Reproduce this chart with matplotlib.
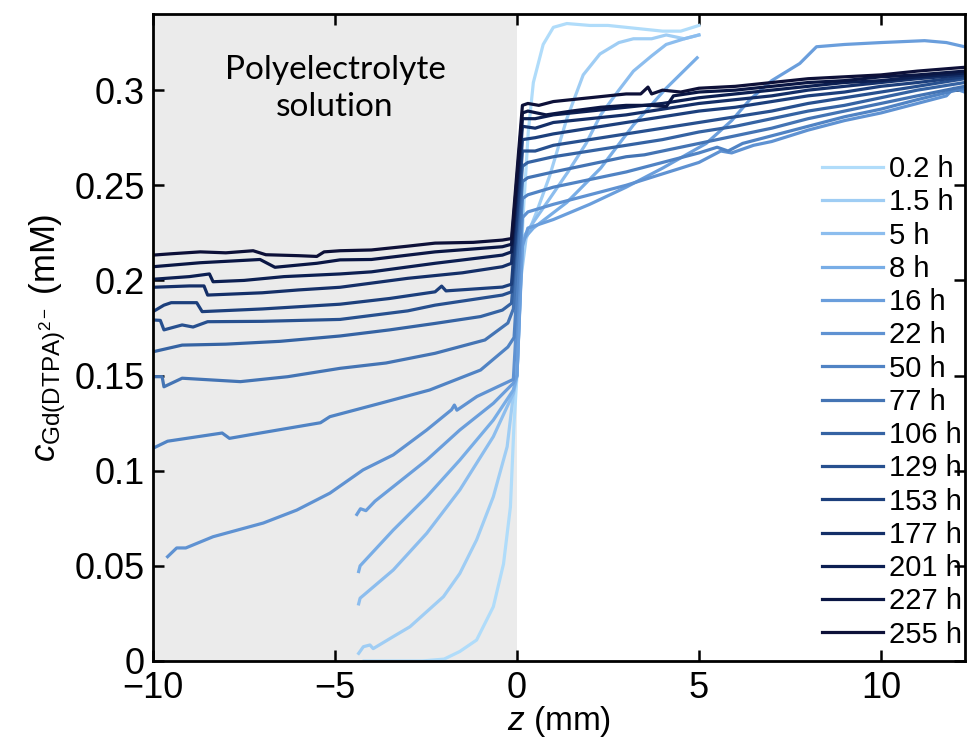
import matplotlib
matplotlib.use('Agg')
import matplotlib.pyplot as plt

plt.rcParams['font.family'] = ['Liberation Sans', 'DejaVu Sans']
plt.rcParams['mathtext.fontset'] = 'custom'
plt.rcParams['mathtext.rm'] = 'Liberation Sans'
plt.rcParams['mathtext.it'] = 'Liberation Sans:italic'

labels = ['0.2 h', '1.5 h', '5 h', '8 h', '16 h', '22 h', '50 h', '77 h',
          '106 h', '129 h', '153 h', '177 h', '201 h', '227 h', '255 h']

# z in mm, c in mM
z_0p2 = [-4.2, -3.4, -2.6, -2.0, -1.57, -1.11, -0.65, -0.37, -0.18, -0.08, 0.0,
         0.08, 0.17, 0.31, 0.45, 0.72, 1.0, 1.37, 2.0, 2.5, 3.0, 3.5, 4.0, 4.5, 5.0]
c_0p2 = [0.0, 0.0, 0.0, 0.001, 0.005, 0.011, 0.0285, 0.051, 0.081, 0.125, 0.150,
         0.200, 0.234, 0.278, 0.304, 0.324, 0.333, 0.335, 0.334, 0.334, 0.333, 0.332, 0.331, 0.331, 0.334]

z_1p5 = [-4.35, -4.22, -4.04, -3.95, -3.4, -2.94, -2.02, -1.57, -1.11, -0.65, -0.27, -0.1, 0.0,
         0.1, 0.25, 0.54, 0.9, 1.37, 1.82, 2.28, 2.8, 3.2, 3.7, 4.1, 4.6, 5.0]
c_1p5 = [0.004, 0.0075, 0.0084, 0.0065, 0.0128, 0.018, 0.0338, 0.046, 0.0636, 0.0863, 0.1126, 0.140, 0.150,
         0.200, 0.222, 0.236, 0.255, 0.285, 0.308, 0.319, 0.325, 0.327, 0.327, 0.329, 0.327, 0.329]

z_5 = [-4.35, -4.31, -3.4, -2.48, -1.57, -0.65, -0.1, 0.0,
       0.15, 0.5, 0.9, 1.4, 1.9, 2.3, 2.8, 3.2, 3.7, 4.1, 4.6, 5.0]
c_5 = [0.030, 0.033, 0.0478, 0.0671, 0.0899, 0.1179, 0.1407, 0.150,
       0.222, 0.232, 0.243, 0.257, 0.272, 0.287, 0.300, 0.310, 0.318, 0.324, 0.327, 0.329]

z_8 = [-4.35, -4.31, -3.4, -2.48, -1.57, -0.65, -0.1, 0.0,
       0.15, 0.45, 1.37, 2.3, 3.2, 4.1, 4.95]
c_8 = [0.047, 0.050, 0.0688, 0.0863, 0.1056, 0.1266, 0.1424, 0.150,
       0.221, 0.2275, 0.241, 0.259, 0.2817, 0.301, 0.317]

z_16 = [-4.4, -4.3, -4.15, -3.9, -3.4, -2.48, -1.57, -0.65, -0.1, 0.0,
        0.15, 0.3, 1.0, 2.0, 3.0, 4.0, 5.2, 5.9, 6.4, 7.0, 7.77, 8.23, 9.0, 10.0, 11.2, 11.8, 12.3]
c_16 = [0.077, 0.080, 0.079, 0.084, 0.0916, 0.1056, 0.1214, 0.1354, 0.146, 0.150,
        0.218, 0.2275, 0.232, 0.240, 0.249, 0.259, 0.272, 0.284, 0.295, 0.305, 0.314, 0.3228, 0.324, 0.325, 0.326, 0.325, 0.3228]

z_22 = [-9.6, -9.35, -9.1, -8.35, -6.97, -6.05, -5.14, -4.23, -3.4, -2.48, -1.8, -1.72, -1.65, -1.1, -0.1,
        0.15, 0.3, 1.0, 2.0, 3.0, 4.0, 5.0, 5.6, 5.9, 6.5, 7.0, 8.0, 9.0, 10.0, 11.0, 11.8, 12.0, 12.3]
c_22 = [0.0548, 0.0594, 0.0594, 0.0653, 0.0725, 0.0793, 0.0882, 0.1004, 0.1083, 0.1214, 0.132, 0.1345, 0.1318, 0.139, 0.148,
        0.233, 0.236, 0.240, 0.245, 0.250, 0.256, 0.262, 0.268, 0.267, 0.271, 0.273, 0.279, 0.284, 0.288, 0.293, 0.297, 0.301, 0.299]

z_50 = [-10.0, -9.6, -8.1, -7.9, -7.3, -5.4, -5.14, -3.76, -2.4, -1.0, -0.25, -0.08,
        0.15, 0.3, 1.0, 2.0, 3.0, 4.0, 5.0, 5.5, 5.8, 6.2, 7.0, 8.0, 9.0, 10.0, 11.0, 12.3]
c_50 = [0.1118, 0.1155, 0.1198, 0.1170, 0.119, 0.1252, 0.1284, 0.1354, 0.1424, 0.1529, 0.165, 0.170,
        0.243, 0.245, 0.249, 0.253, 0.257, 0.262, 0.267, 0.270, 0.268, 0.272, 0.276, 0.281, 0.286, 0.290, 0.295, 0.301]

z_77 = [-10.0, -9.75, -9.7, -9.2, -7.6, -6.3, -4.86, -3.6, -2.25, -0.88, -0.25, -0.1,
        0.15, 0.3, 1.0, 2.0, 3.0, 3.5, 4.0, 5.0, 6.0, 7.0, 8.0, 9.0, 10.0, 11.0, 12.3]
c_77 = [0.1494, 0.1494, 0.1441, 0.1486, 0.1468, 0.1494, 0.1538, 0.1566, 0.1617, 0.1687, 0.1776, 0.185,
        0.252, 0.254, 0.257, 0.261, 0.265, 0.266, 0.268, 0.272, 0.276, 0.280, 0.285, 0.289, 0.293, 0.297, 0.302]

z_106 = [-10.0, -9.2, -8.0, -6.5, -4.86, -3.5, -2.25, -1.0, -0.4, -0.15,
         0.15, 0.3, 1.0, 2.0, 3.0, 4.0, 5.0, 6.0, 7.0, 8.0, 9.0, 10.0, 11.0, 12.3]
c_106 = [0.1625, 0.166, 0.1665, 0.168, 0.1708, 0.174, 0.1774, 0.181, 0.1844, 0.188,
         0.260, 0.262, 0.265, 0.268, 0.271, 0.274, 0.278, 0.281, 0.285, 0.289, 0.292, 0.296, 0.300, 0.304]

z_129 = [-10.0, -9.8, -9.7, -9.2, -8.9, -8.5, -7.0, -4.86, -3.0, -2.25, -0.4, -0.15,
         0.15, 0.5, 1.0, 2.0, 3.0, 4.0, 5.0, 6.0, 7.0, 8.0, 9.0, 10.0, 11.0, 12.3]
c_129 = [0.1792, 0.1790, 0.174, 0.1766, 0.1755, 0.1783, 0.1785, 0.1795, 0.184, 0.187, 0.1923, 0.194,
         0.268, 0.268, 0.271, 0.274, 0.277, 0.280, 0.283, 0.286, 0.289, 0.293, 0.296, 0.299, 0.302, 0.306]

z_153 = [-10.0, -9.7, -9.5, -8.8, -8.65, -7.0, -4.86, -3.5, -2.25, -2.07, -1.95, -0.4, -0.15,
         0.15, 0.5, 1.0, 2.0, 3.0, 4.0, 5.0, 6.0, 7.0, 8.0, 9.0, 10.0, 11.0, 12.3]
c_153 = [0.1836, 0.1870, 0.1883, 0.1883, 0.1836, 0.1850, 0.1875, 0.1905, 0.194, 0.197, 0.1945, 0.1965, 0.198,
         0.274, 0.275, 0.277, 0.280, 0.283, 0.286, 0.289, 0.291, 0.294, 0.297, 0.299, 0.302, 0.304, 0.307]

z_177 = [-10.0, -9.0, -8.6, -8.5, -7.0, -6.0, -4.86, -3.0, -1.5, -0.4, -0.15,
         0.15, 0.5, 1.0, 2.0, 3.0, 4.0, 5.0, 6.0, 7.0, 8.0, 9.0, 10.0, 11.0, 12.3]
c_177 = [0.1964, 0.1971, 0.1971, 0.1923, 0.1935, 0.1950, 0.1964, 0.2011, 0.204, 0.2072, 0.209,
         0.281, 0.280, 0.283, 0.285, 0.287, 0.290, 0.293, 0.295, 0.297, 0.300, 0.302, 0.304, 0.306, 0.308]

z_201 = [-10.0, -9.0, -8.45, -8.35, -7.5, -6.4, -4.86, -4.0, -2.25, -0.4, -0.15,
         0.15, 0.5, 1.0, 2.0, 3.0, 4.0, 5.0, 6.0, 7.0, 8.0, 9.0, 10.0, 11.0, 12.3]
c_201 = [0.2006, 0.2020, 0.2034, 0.1993, 0.2000, 0.2020, 0.2034, 0.2045, 0.209, 0.2133, 0.215,
         0.285, 0.285, 0.287, 0.289, 0.291, 0.293, 0.296, 0.298, 0.300, 0.302, 0.304, 0.305, 0.307, 0.309]

z_227 = [-10.0, -8.7, -7.06, -6.65, -5.5, -4.86, -4.0, -2.25, -0.4, -0.15,
         0.15, 0.3, 0.8, 1.5, 2.3, 3.0, 3.7, 4.1, 4.3, 5.0, 6.0, 7.0, 8.0, 9.0, 10.0, 11.0, 12.3]
c_227 = [0.2072, 0.2093, 0.211, 0.2069, 0.209, 0.2108, 0.211, 0.215, 0.2177, 0.219,
         0.288, 0.289, 0.287, 0.289, 0.291, 0.292, 0.292, 0.2913, 0.297, 0.299, 0.300, 0.302, 0.304, 0.305, 0.307, 0.308, 0.310]

z_255 = [-10.0, -9.5, -8.7, -8.0, -7.25, -6.9, -6.0, -5.5, -5.3, -4.86, -4.0, -3.0, -2.25, -1.2, -0.4, -0.15,
         0.15, 0.3, 0.6, 1.0, 1.5, 2.0, 2.5, 3.0, 3.4, 3.6, 3.7, 4.0, 4.5, 5.0, 6.0, 7.0, 8.0, 9.0, 10.0, 11.0, 12.3]
c_255 = [0.2133, 0.2140, 0.2150, 0.2145, 0.2156, 0.2135, 0.2130, 0.2126, 0.2150, 0.2156, 0.2160, 0.2180, 0.2196, 0.2200, 0.2212, 0.222,
         0.292, 0.293, 0.292, 0.294, 0.295, 0.296, 0.297, 0.298, 0.298, 0.3016, 0.298, 0.300, 0.299, 0.301, 0.302, 0.304, 0.306, 0.307, 0.308, 0.310, 0.312]

z_all = [z_0p2, z_1p5, z_5, z_8, z_16, z_22, z_50, z_77, z_106, z_129, z_153, z_177, z_201, z_227, z_255]
c_all = [c_0p2, c_1p5, c_5, c_8, c_16, c_22, c_50, c_77, c_106, c_129, c_153, c_177, c_201, c_227, c_255]

colors = ['#b0dcfa', '#9fcdf4', '#8cbdee', '#78ade6', '#6a9edc', '#5f92d2', '#5083c4', '#4474b4',
          '#3563a3', '#27508f', '#1c3f7c', '#142f68', '#0c1f52', '#0a1644', '#0d1038']

fig = plt.figure(figsize=(9.71, 7.42), dpi=100)
ax = fig.add_axes([0.1576, 0.1092, 0.8362, 0.8719])

ax.axvspan(-10, 0, color='#ebebeb', zorder=0, lw=0)
for lab, z, c, col in zip(labels, z_all, c_all, colors):
    ax.plot(z, c, color=col, lw=2.3, label=lab, solid_joinstyle='round')

ax.set_xlim(-10, 12.31)
ax.set_ylim(0, 0.34)
ax.set_xticks([-10, -5, 0, 5, 10])
ax.set_yticks([0, 0.05, 0.1, 0.15, 0.2, 0.25, 0.3])
ax.set_yticklabels(['0', '0.05', '0.1', '0.15', '0.2', '0.25', '0.3'])
ax.tick_params(direction='in', length=8, width=1.8, top=True, right=True,
               labelsize=26, pad=6)
ax.tick_params(axis='x', pad=7)
for sp in ax.spines.values():
    sp.set_linewidth(2)

ax.set_xlabel(r'$z$ (mm)', fontsize=24)
ax.xaxis.set_label_coords(0.5, -0.066)
ax.set_ylabel(r'$c_{\mathrm{Gd(DTPA)}^{2-}}$ (mM)', fontsize=25)
ax.yaxis.set_label_coords(-0.105, 0.50)

ax.text(-5, 0.301, 'Polyelectrolyte\nsolution', ha='center', va='center',
        fontsize=24, family=['Lato', 'DejaVu Sans'], linespacing=1.3)

ax.legend(loc='upper left', bbox_to_anchor=(0.824, 0.782), frameon=False,
          fontsize=21, handlelength=2.1, handletextpad=0.2, labelspacing=0.18,
          borderpad=0, borderaxespad=0)

fig.savefig('out.png', dpi=100)
